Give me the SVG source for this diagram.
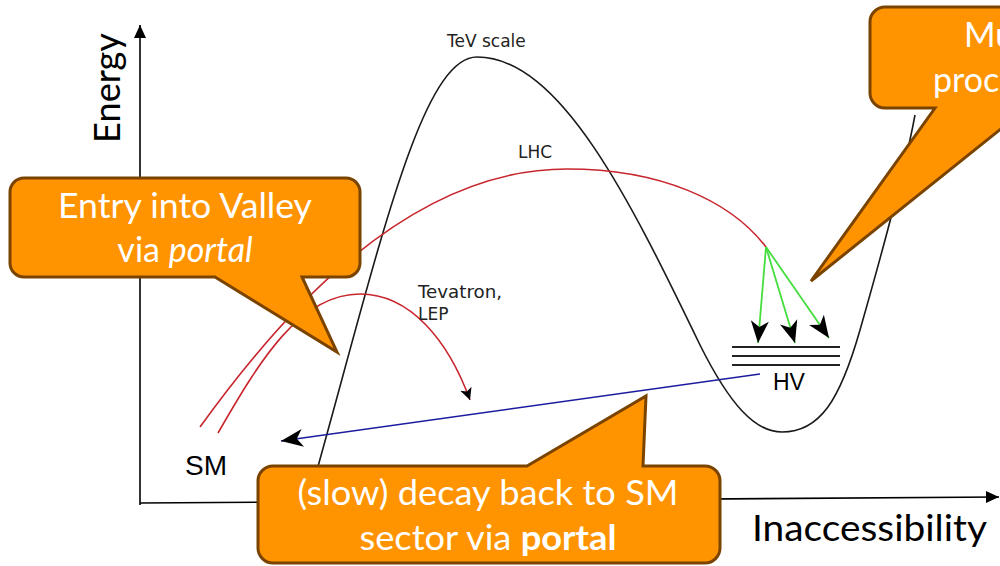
<svg xmlns="http://www.w3.org/2000/svg" width="1000" height="566" viewBox="0 0 1000 566">
<style>
.ax{stroke:#000;stroke-width:1.6;fill:none}
.blk{stroke:#1a1a1a;stroke-width:1.6;fill:none}
.red{stroke:#c8262e;stroke-width:1.6;fill:none}
.blue{stroke:#1c1ca0;stroke-width:1.6;fill:none}
.grn{stroke:#44dd3c;stroke-width:1.8;fill:none}
.lbl{font-family:"DejaVu Sans",sans-serif;font-size:17px;fill:#222}
.hl{font-family:"Liberation Sans",Arial,sans-serif;fill:#000}
.axl{font-family:Lato,"Liberation Sans",sans-serif;font-size:36px;fill:#000}
.co{fill:#ff9400;stroke:#7a4400;stroke-width:3;stroke-linejoin:miter}
.ct{font-family:Lato,"Liberation Sans",sans-serif;font-size:34px;fill:#fff;text-anchor:middle}
</style>
<defs>
<marker id="tri" markerUnits="userSpaceOnUse" markerWidth="16" markerHeight="14" refX="13" refY="6" orient="auto" overflow="visible">
<path d="M0,0 L13,6 L0,12 Z" fill="#000"/>
</marker>
<marker id="sm" markerUnits="userSpaceOnUse" markerWidth="14" markerHeight="12" refX="12" refY="6" orient="auto" overflow="visible">
<path d="M12,6 L0,0 L3,6 L0,12 Z" fill="#000"/>
</marker>
<marker id="big" markerUnits="userSpaceOnUse" markerWidth="24" markerHeight="18" refX="22" refY="9" orient="auto" overflow="visible">
<path d="M22,9 L0,0 L6,9 L0,18 Z" fill="#000"/>
</marker>
</defs>

<g id="axes">
<line class="ax" x1="140" y1="505" x2="140" y2="25" marker-end="url(#tri)"/>
<line class="ax" x1="140" y1="503" x2="999" y2="497" marker-end="url(#tri)"/>
<text class="axl" transform="translate(120,88) rotate(-90)" text-anchor="middle" textLength="110" lengthAdjust="spacingAndGlyphs">Energy</text>
<text class="axl" x="752" y="541" textLength="235" lengthAdjust="spacingAndGlyphs">Inaccessibility</text>
</g>

<g id="potential">
<path class="blk" d="M310,495 C378,254 420,57 477,57 C560,57 630,200 700,345 C730,405 755,432 782,432 C820,432 840,400 860,330 C880,260 905,170 915,115"/>
<text class="lbl" x="447" y="47">TeV scale</text>
</g>

<g id="connectors">
<path class="red" d="M200,427 C270,330 400,169 567,169 C660,169 730,200 766,247"/>
<path class="red" d="M218,433 C260,360 300,294 360,294 C410,294 448,340 470,400" marker-end="url(#sm)"/>
<line class="blue" x1="760" y1="374" x2="281" y2="441" marker-end="url(#big)"/>
<line class="grn" x1="766" y1="247" x2="758" y2="343" marker-end="url(#big)"/>
<line class="grn" x1="766" y1="247" x2="795" y2="343" marker-end="url(#big)"/>
<line class="grn" x1="766" y1="247" x2="829" y2="338" marker-end="url(#big)"/>
</g>

<g id="labels">
<text class="lbl" x="518" y="158">LHC</text>
<text class="lbl" x="418" y="298" textLength="84" lengthAdjust="spacingAndGlyphs">Tevatron,</text>
<text class="lbl" x="418" y="320">LEP</text>
</g>

<g id="SM">
<text class="hl" x="185" y="475" font-size="28">SM</text>
</g>

<g id="HV">
<line x1="732" y1="347" x2="840" y2="347" stroke="#222" stroke-width="2.2"/>
<line x1="732" y1="356" x2="840" y2="356" stroke="#222" stroke-width="2.2"/>
<line x1="732" y1="365" x2="840" y2="365" stroke="#222" stroke-width="2.2"/>
<text class="hl" x="773" y="390" font-size="23">HV</text>
</g>

<g id="callout-entry">
<path class="co" d="M24,178 H346 A14,14 0 0 1 360,192 V263 A14,14 0 0 1 346,277 H302 L337,352 L215,277 H24 A14,14 0 0 1 10,263 V192 A14,14 0 0 1 24,178 Z"/>
<text class="ct" x="185" y="218" textLength="254" lengthAdjust="spacingAndGlyphs">Entry into Valley</text>
<text class="ct" x="185" y="262">via <tspan font-style="italic">portal</tspan></text>
</g>

<g id="callout-decay">
<path class="co" d="M273,466 H527 L646,396 L643,466 H705 A15,15 0 0 1 720,481 V548 A15,15 0 0 1 705,563 H273 A15,15 0 0 1 258,548 V481 A15,15 0 0 1 273,466 Z"/>
<text class="ct" x="488" y="505" textLength="381" lengthAdjust="spacingAndGlyphs">(slow) decay back to SM</text>
<text class="ct" x="488" y="550" textLength="257" lengthAdjust="spacingAndGlyphs">sector via <tspan font-weight="bold">portal</tspan></text>
</g>

<g id="callout-multi">
<path class="co" d="M885,7 H1040 V108 H1027 L811,281 L935,108 H885 A15,15 0 0 1 870,93 V22 A15,15 0 0 1 885,7 Z"/>
<text class="ct" x="964" y="47" style="text-anchor:start">Mu</text>
<text class="ct" x="933" y="92" style="text-anchor:start">proc</text>
</g>
</svg>
